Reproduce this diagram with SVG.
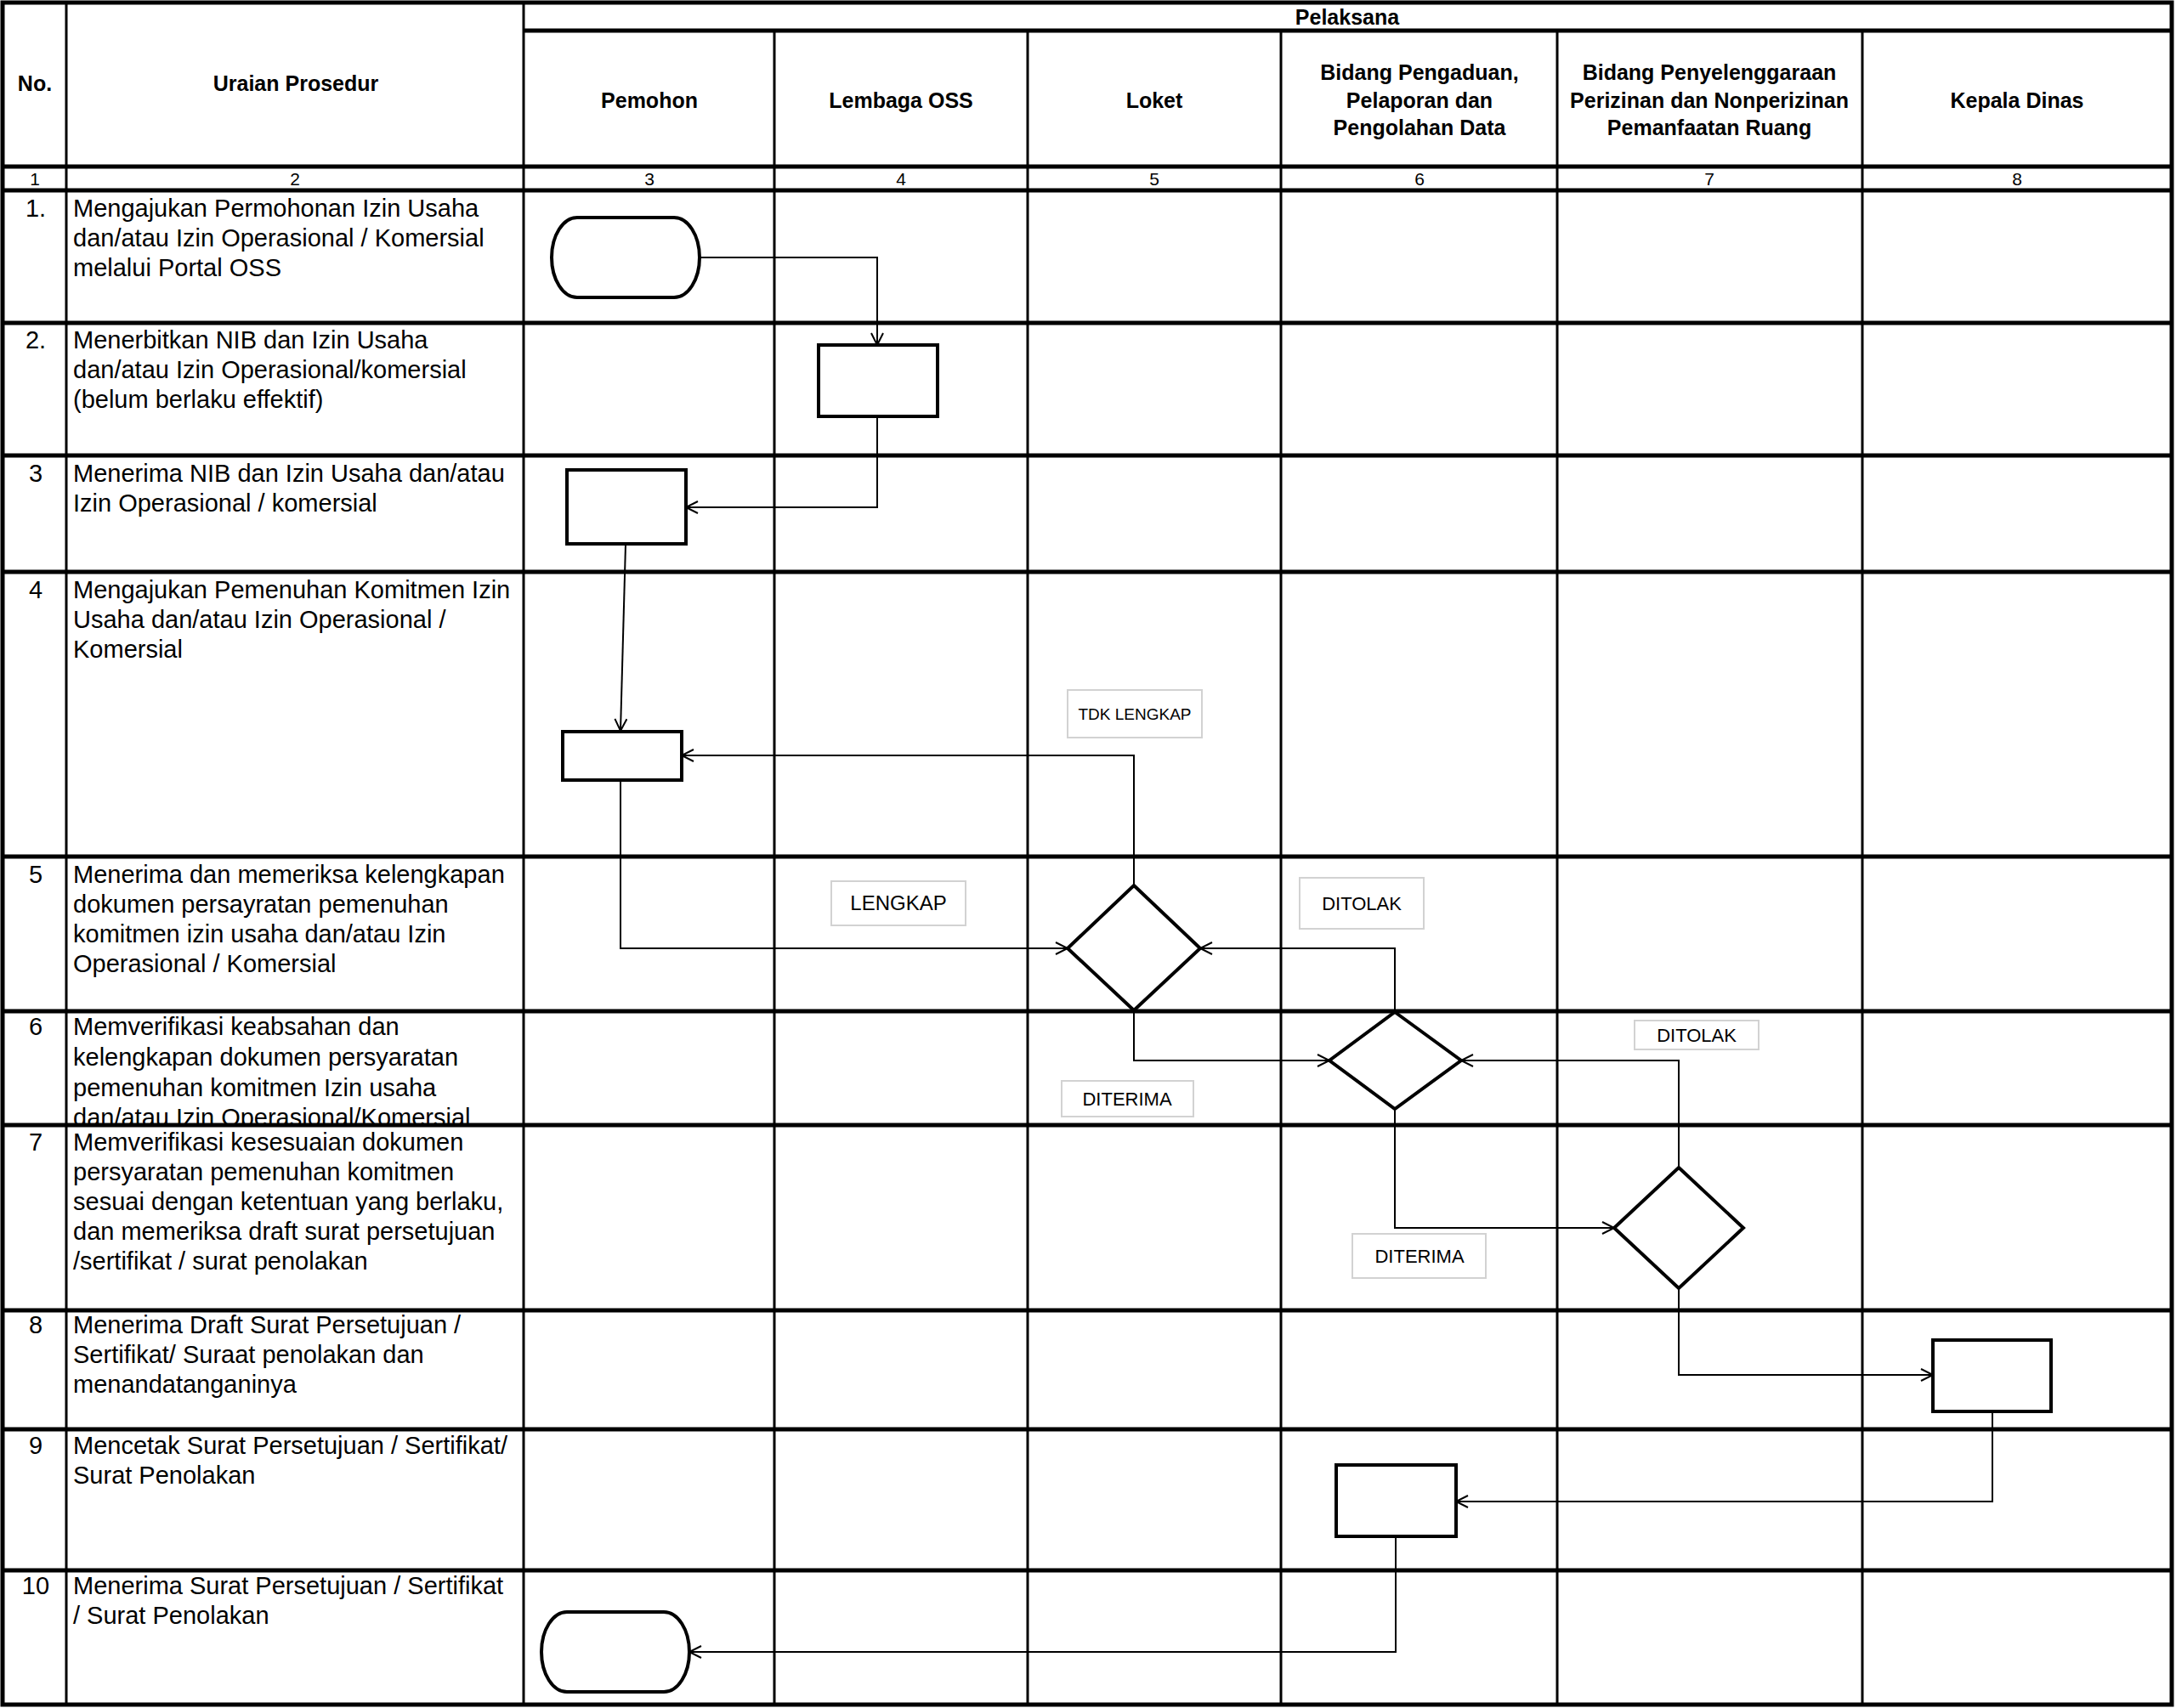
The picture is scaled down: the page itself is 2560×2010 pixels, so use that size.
<svg xmlns="http://www.w3.org/2000/svg" width="2560" height="2010" viewBox="0 0 2560 2010">
<defs>
<style>
.gv{stroke:#000;stroke-width:3}
.gh{stroke:#000;stroke-width:5}
.node{fill:#fff;stroke:#000;stroke-width:4}
.conn{fill:none;stroke:#000;stroke-width:2;marker-end:url(#arr)}
.lb{fill:#fff;stroke:#d2d2d2;stroke-width:2}
.lt{font-family:"Liberation Sans",Arial,sans-serif;font-size:22px;text-anchor:middle;fill:#000}
.hd{font-family:"Liberation Sans",Arial,sans-serif;font-weight:bold;font-size:25px;text-anchor:middle;fill:#000}
.nm{font-family:"Liberation Sans",Arial,sans-serif;font-size:21px;text-anchor:middle;fill:#000}
.bd{font-family:"Liberation Sans",Arial,sans-serif;font-size:29px;fill:#000}
.no{font-family:"Liberation Sans",Arial,sans-serif;font-size:29px;text-anchor:middle;fill:#000}
</style>
<marker id="arr" markerUnits="userSpaceOnUse" markerWidth="18" markerHeight="16" refX="15" refY="8" orient="auto">
<path d="M1,1 L15,8 L1,15" fill="none" stroke="#000" stroke-width="2"/>
</marker>
<clipPath id="c6"><rect x="78" y="1190" width="538" height="132"/></clipPath>
</defs>
<rect x="0" y="0" width="2560" height="2010" fill="#fff"/>

<g id="grid">
<line class="gh" x1="616" y1="36" x2="2555" y2="36"/>
<line class="gh" x1="3" y1="196" x2="2555" y2="196"/>
<line class="gh" x1="3" y1="224" x2="2555" y2="224"/>
<line class="gh" x1="3" y1="380" x2="2555" y2="380"/>
<line class="gh" x1="3" y1="536" x2="2555" y2="536"/>
<line class="gh" x1="3" y1="673" x2="2555" y2="673"/>
<line class="gh" x1="3" y1="1008" x2="2555" y2="1008"/>
<line class="gh" x1="3" y1="1190" x2="2555" y2="1190"/>
<line class="gh" x1="3" y1="1324" x2="2555" y2="1324"/>
<line class="gh" x1="3" y1="1542" x2="2555" y2="1542"/>
<line class="gh" x1="3" y1="1682" x2="2555" y2="1682"/>
<line class="gh" x1="3" y1="1848" x2="2555" y2="1848"/>
<line class="gv" x1="78" y1="3" x2="78" y2="2006"/>
<line class="gv" x1="616" y1="3" x2="616" y2="2006"/>
<line class="gv" x1="911" y1="36" x2="911" y2="2006"/>
<line class="gv" x1="1209" y1="36" x2="1209" y2="2006"/>
<line class="gv" x1="1507" y1="36" x2="1507" y2="2006"/>
<line class="gv" x1="1832" y1="36" x2="1832" y2="2006"/>
<line class="gv" x1="2191" y1="36" x2="2191" y2="2006"/>
<rect x="3" y="3" width="2552" height="2003" fill="none" stroke="#000" stroke-width="5"/>
</g>

<g id="header">
<text class="hd" x="41" y="107">No.</text>
<text class="hd" x="348" y="107">Uraian Prosedur</text>
<text class="hd" x="1585" y="29">Pelaksana</text>
<text class="hd" x="764" y="127">Pemohon</text>
<text class="hd" x="1060" y="127">Lembaga OSS</text>
<text class="hd" x="1358" y="127">Loket</text>
<text class="hd" x="1670" y="94">Bidang Pengaduan,</text>
<text class="hd" x="1670" y="127">Pelaporan dan</text>
<text class="hd" x="1670" y="159">Pengolahan Data</text>
<text class="hd" x="2011" y="94">Bidang Penyelenggaraan</text>
<text class="hd" x="2011" y="127">Perizinan dan Nonperizinan</text>
<text class="hd" x="2011" y="159">Pemanfaatan Ruang</text>
<text class="hd" x="2373" y="127">Kepala Dinas</text>
<text class="nm" x="41" y="218">1</text>
<text class="nm" x="347" y="218">2</text>
<text class="nm" x="764" y="218">3</text>
<text class="nm" x="1060" y="218">4</text>
<text class="nm" x="1358" y="218">5</text>
<text class="nm" x="1670" y="218">6</text>
<text class="nm" x="2011" y="218">7</text>
<text class="nm" x="2373" y="218">8</text>
</g>

<g id="rows">
<text class="no" x="42" y="255">1.</text>
<text class="bd" x="86" y="255">Mengajukan Permohonan Izin Usaha</text>
<text class="bd" x="86" y="290">dan/atau Izin Operasional / Komersial</text>
<text class="bd" x="86" y="325">melalui Portal OSS</text>

<text class="no" x="42" y="410">2.</text>
<text class="bd" x="86" y="410">Menerbitkan NIB dan Izin Usaha</text>
<text class="bd" x="86" y="445">dan/atau Izin Operasional/komersial</text>
<text class="bd" x="86" y="480">(belum berlaku effektif)</text>

<text class="no" x="42" y="567">3</text>
<text class="bd" x="86" y="567">Menerima NIB dan Izin Usaha dan/atau</text>
<text class="bd" x="86" y="602">Izin Operasional / komersial</text>

<text class="no" x="42" y="704">4</text>
<text class="bd" x="86" y="704">Mengajukan Pemenuhan Komitmen Izin</text>
<text class="bd" x="86" y="739">Usaha dan/atau Izin Operasional /</text>
<text class="bd" x="86" y="774">Komersial</text>

<text class="no" x="42" y="1039">5</text>
<text class="bd" x="86" y="1039">Menerima dan memeriksa kelengkapan</text>
<text class="bd" x="86" y="1074">dokumen persayratan pemenuhan</text>
<text class="bd" x="86" y="1109">komitmen izin usaha dan/atau Izin</text>
<text class="bd" x="86" y="1144">Operasional / Komersial</text>

<text class="no" x="42" y="1218">6</text>
<g clip-path="url(#c6)">
<text class="bd" x="86" y="1218">Memverifikasi keabsahan dan</text>
<text class="bd" x="86" y="1254">kelengkapan dokumen persyaratan</text>
<text class="bd" x="86" y="1290">pemenuhan komitmen Izin usaha</text>
<text class="bd" x="86" y="1325">dan/atau Izin Operasional/Komersial</text>
</g>

<text class="no" x="42" y="1354">7</text>
<text class="bd" x="86" y="1354">Memverifikasi kesesuaian dokumen</text>
<text class="bd" x="86" y="1389">persyaratan pemenuhan komitmen</text>
<text class="bd" x="86" y="1424">sesuai dengan ketentuan yang berlaku,</text>
<text class="bd" x="86" y="1459">dan memeriksa draft surat persetujuan</text>
<text class="bd" x="86" y="1494">/sertifikat / surat penolakan</text>

<text class="no" x="42" y="1569">8</text>
<text class="bd" x="86" y="1569">Menerima Draft Surat Persetujuan /</text>
<text class="bd" x="86" y="1604">Sertifikat/ Suraat penolakan dan</text>
<text class="bd" x="86" y="1639">menandatanganinya</text>

<text class="no" x="42" y="1711">9</text>
<text class="bd" x="86" y="1711">Mencetak Surat Persetujuan / Sertifikat/</text>
<text class="bd" x="86" y="1746">Surat Penolakan</text>

<text class="no" x="42" y="1876">10</text>
<text class="bd" x="86" y="1876">Menerima Surat Persetujuan / Sertifikat</text>
<text class="bd" x="86" y="1911">/ Surat Penolakan</text>
</g>

<g id="connectors">
<polyline class="conn" points="823,303 1032,303 1032,406"/>
<polyline class="conn" points="1032,490 1032,597 807,597"/>
<polyline class="conn" points="736,640 730,860"/>
<polyline class="conn" points="730,918 730,1116 1256,1116"/>
<polyline class="conn" points="1334,1042 1334,889 802,889"/>
<polyline class="conn" points="1334,1189 1334,1248 1564,1248"/>
<polyline class="conn" points="1641,1191 1641,1116 1412,1116"/>
<polyline class="conn" points="1641,1305 1641,1445 1899,1445"/>
<polyline class="conn" points="1975,1374 1975,1248 1719,1248"/>
<polyline class="conn" points="1975,1516 1975,1618 2274,1618"/>
<polyline class="conn" points="2344,1661 2344,1767 1713,1767"/>
<polyline class="conn" points="1642,1808 1642,1944 811,1944"/>
</g>

<g id="n1"><rect class="node" x="649" y="256" width="174" height="94" rx="30" ry="47"/></g>
<g id="n2"><rect class="node" x="963" y="406" width="140" height="84"/></g>
<g id="n3"><rect class="node" x="667" y="553" width="140" height="87"/></g>
<g id="n4"><rect class="node" x="662" y="861" width="140" height="57"/></g>
<g id="n5"><polygon class="node" points="1334,1042 1412,1116 1334,1189 1256,1116"/></g>
<g id="n6"><polygon class="node" points="1641,1191 1719,1248 1641,1305 1564,1248"/></g>
<g id="n7"><polygon class="node" points="1975,1374 2051,1445 1975,1516 1899,1445"/></g>
<g id="n8"><rect class="node" x="2274" y="1577" width="139" height="84"/></g>
<g id="n9"><rect class="node" x="1572" y="1724" width="141" height="84"/></g>
<g id="n10"><rect class="node" x="637" y="1897" width="174" height="94" rx="30" ry="47"/></g>

<g id="labels">
<g id="l1"><rect class="lb" x="1256" y="812" width="158" height="56"/><text class="lt" x="1335" y="847" style="font-size:19px">TDK LENGKAP</text></g>
<g id="l2"><rect class="lb" x="978" y="1037" width="158" height="52"/><text class="lt" x="1057" y="1071" style="font-size:24px">LENGKAP</text></g>
<g id="l3"><rect class="lb" x="1529" y="1033" width="146" height="60"/><text class="lt" x="1602" y="1071">DITOLAK</text></g>
<g id="l4"><rect class="lb" x="1249" y="1272" width="155" height="42"/><text class="lt" x="1326" y="1301">DITERIMA</text></g>
<g id="l5"><rect class="lb" x="1923" y="1201" width="146" height="34"/><text class="lt" x="1996" y="1226">DITOLAK</text></g>
<g id="l6"><rect class="lb" x="1591" y="1452" width="157" height="52"/><text class="lt" x="1670" y="1486">DITERIMA</text></g>
</g>
</svg>
